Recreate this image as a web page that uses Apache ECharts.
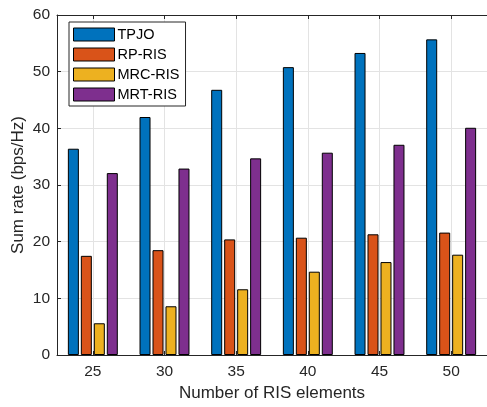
<!DOCTYPE html>
<html>
<head>
<meta charset="utf-8">
<script src="https://cdn.jsdelivr.net/npm/echarts@6/dist/echarts.min.js"></script>
<style>
  html, body { margin: 0; padding: 0; background: #fff; }
  #chart { width: 487px; height: 407px; }
</style>
</head>
<body>
<div id="chart"></div>
<script>
// number of RIS elements
const ris = [25, 30, 35, 40, 45, 50];
// sum rate (bps/Hz)
const tpjo = [36.4, 42.0, 46.8, 50.8, 53.3, 55.7];
const rpRis = [17.5, 18.5, 20.4, 20.7, 21.3, 21.6];
const mrcRis = [5.6, 8.6, 11.6, 14.7, 16.4, 17.7];
const mrtRis = [32.1, 32.9, 34.7, 35.7, 37.1, 40.1];

const names = ["TPJO", "RP-RIS", "MRC-RIS", "MRT-RIS"];
const colors = ["#0072BD", "#D95319", "#EDB120", "#7E2F8E"];
const font = "Liberation Sans, Arial, Helvetica, sans-serif";
const ink = "#262626";

const chart = echarts.init(document.getElementById("chart"));

function makeSeries(name, vals, color) {
  return {
    name: name,
    type: "bar",
    barWidth: 11,
    barGap: "18%",
    data: ris.map((x, i) => [x, vals[i]]),
    itemStyle: { color: color, borderColor: "#000", borderWidth: 1 },
  };
}

const option = {
  animation: false,
  backgroundColor: "#fff",
  textStyle: { fontFamily: font },
  grid: { left: 57, top: 15, right: -8, bottom: 51 },
  legend: {
    orient: "vertical",
    left: 69,
    top: 22,
    padding: [5, 6, 4, 4],
    itemWidth: 41,
    itemHeight: 13,
    itemGap: 5,
    backgroundColor: "#fff",
    borderColor: ink,
    borderWidth: 1,
    borderRadius: 0,
    icon: "rect",
    itemStyle: { borderColor: "#000", borderWidth: 1 },
    textStyle: { fontFamily: font, fontSize: 14.5, color: "#000", lineHeight: 13, padding: [0, 0, 0, -2] },
    data: names,
  },
  xAxis: [
    {
      type: "value",
      min: 22.5,
      max: 52.5,
      name: "Number of RIS elements",
      nameLocation: "middle",
      nameGap: 30,
      nameMoveOverlap: false,
      nameTextStyle: { fontFamily: font, fontSize: 17, color: ink },
      axisLine: { show: true, lineStyle: { color: ink, width: 1 } },
      axisTick: { show: true, inside: true, length: 4, lineStyle: { color: ink } },
      axisLabel: {
        fontFamily: font, fontSize: 15.5, color: ink, margin: 9,
        showMinLabel: false, showMaxLabel: false,
      },
      splitLine: { show: true, lineStyle: { color: "#e3e3e3", width: 1 } },
    },
    {
      type: "value",
      position: "top",
      min: 22.5,
      max: 52.5,
      axisLine: { show: true, lineStyle: { color: ink, width: 1 } },
      axisTick: { show: true, inside: true, length: 4, lineStyle: { color: ink } },
      axisLabel: { show: false },
      splitLine: { show: false },
    },
  ],
  yAxis: {
    type: "value",
    min: 0,
    max: 60,
    interval: 10,
    name: "Sum rate (bps/Hz)",
    nameLocation: "middle",
    nameGap: 30,
    nameMoveOverlap: false,
    nameTextStyle: { fontFamily: font, fontSize: 17, color: ink },
    axisLine: { show: true, lineStyle: { color: ink, width: 1 } },
    axisTick: { show: true, inside: true, length: 4, lineStyle: { color: ink } },
    axisLabel: { fontFamily: font, fontSize: 15.5, color: ink, margin: 7 },
    splitLine: { show: true, lineStyle: { color: "#e3e3e3", width: 1 } },
  },
  series: [
    makeSeries(names[0], tpjo, colors[0]),
    makeSeries(names[1], rpRis, colors[1]),
    makeSeries(names[2], mrcRis, colors[2]),
    makeSeries(names[3], mrtRis, colors[3]),
  ],
};

chart.setOption(option);
</script>
</body>
</html>
